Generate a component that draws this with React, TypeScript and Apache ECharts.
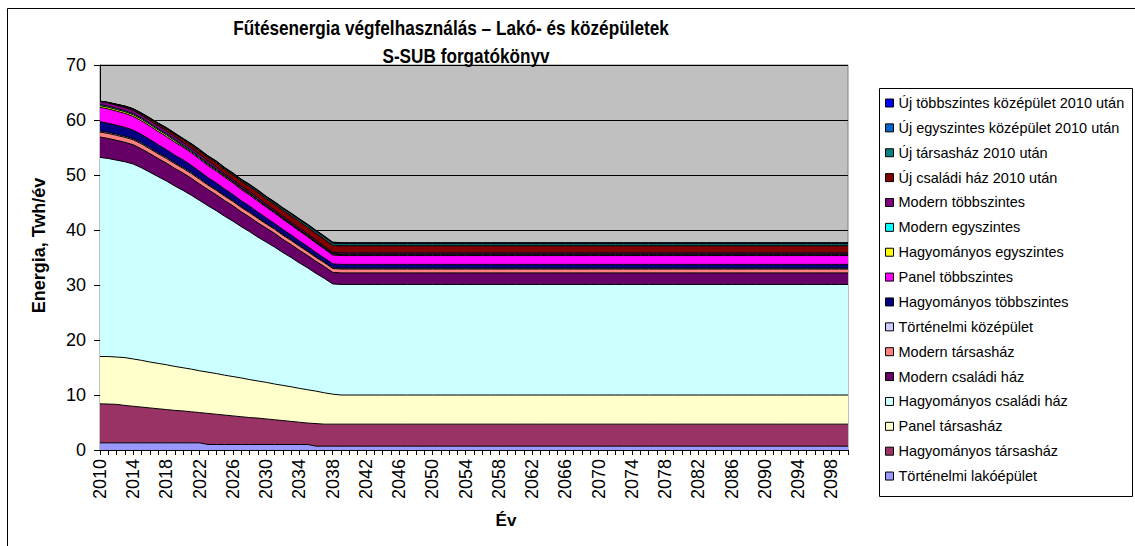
import React, { useEffect, useRef } from "react";
import * as echarts from "echarts";

const FONT = "'Liberation Sans', Arial, Helvetica, sans-serif";

const titleLine1 = "Fűtésenergia végfelhasználás – Lakó- és középületek";
const titleLine2 = "S-SUB forgatókönyv";
const yAxisTitle = "Energia, Twh/év";
const xAxisTitle = "Év";

const years = [
  2010, 2011, 2012, 2013, 2014, 2015, 2016, 2017, 2018, 2019,
  2020, 2021, 2022, 2023, 2024, 2025, 2026, 2027, 2028, 2029,
  2030, 2031, 2032, 2033, 2034, 2035, 2036, 2037, 2038, 2039,
  2040, 2041, 2042, 2043, 2044, 2045, 2046, 2047, 2048, 2049,
  2050, 2051, 2052, 2053, 2054, 2055, 2056, 2057, 2058, 2059,
  2060, 2061, 2062, 2063, 2064, 2065, 2066, 2067, 2068, 2069,
  2070, 2071, 2072, 2073, 2074, 2075, 2076, 2077, 2078, 2079,
  2080, 2081, 2082, 2083, 2084, 2085, 2086, 2087, 2088, 2089,
  2090, 2091, 2092, 2093, 2094, 2095, 2096, 2097, 2098, 2099,
  2100,
];

const yTicks = [0, 10, 20, 30, 40, 50, 60, 70];

// Stack order: bottom -> top
const tortenelmiLako = [
  1.3, 1.3, 1.3, 1.3, 1.3, 1.3, 1.3, 1.3, 1.3, 1.3,
  1.3, 1.3, 1.3, 1.0, 1.0, 1.0, 1.0, 1.0, 1.0, 1.0,
  1.0, 1.0, 1.0, 1.0, 1.0, 1.0, 0.7, 0.7, 0.7, 0.7,
  0.7, 0.7, 0.7, 0.7, 0.7, 0.7, 0.7, 0.7, 0.7, 0.7,
  0.7, 0.7, 0.7, 0.7, 0.7, 0.7, 0.7, 0.7, 0.7, 0.7,
  0.7, 0.7, 0.7, 0.7, 0.7, 0.7, 0.7, 0.7, 0.7, 0.7,
  0.7, 0.7, 0.7, 0.7, 0.7, 0.7, 0.7, 0.7, 0.7, 0.7,
  0.7, 0.7, 0.7, 0.7, 0.7, 0.7, 0.7, 0.7, 0.7, 0.7,
  0.7, 0.7, 0.7, 0.7, 0.7, 0.7, 0.7, 0.7, 0.7, 0.7,
  0.7,
];
const hagyTarsashaz = [
  7.1, 7.05, 7.0, 6.8, 6.65, 6.5, 6.35, 6.2, 6.05, 5.9,
  5.8, 5.65, 5.5, 5.65, 5.5, 5.35, 5.2, 5.05, 4.9, 4.8,
  4.65, 4.5, 4.35, 4.2, 4.05, 3.9, 4.1, 4.0, 4.0, 4.0,
  4.0, 4.0, 4.0, 4.0, 4.0, 4.0, 4.0, 4.0, 4.0, 4.0,
  4.0, 4.0, 4.0, 4.0, 4.0, 4.0, 4.0, 4.0, 4.0, 4.0,
  4.0, 4.0, 4.0, 4.0, 4.0, 4.0, 4.0, 4.0, 4.0, 4.0,
  4.0, 4.0, 4.0, 4.0, 4.0, 4.0, 4.0, 4.0, 4.0, 4.0,
  4.0, 4.0, 4.0, 4.0, 4.0, 4.0, 4.0, 4.0, 4.0, 4.0,
  4.0, 4.0, 4.0, 4.0, 4.0, 4.0, 4.0, 4.0, 4.0, 4.0,
  4.0,
];
const panelTarsashaz = [
  8.6, 8.65, 8.6, 8.7, 8.6, 8.5, 8.35, 8.25, 8.15, 8.0,
  7.85, 7.75, 7.6, 7.5, 7.4, 7.25, 7.15, 7.05, 6.9, 6.75,
  6.65, 6.5, 6.4, 6.3, 6.15, 6.05, 5.9, 5.7, 5.45, 5.3,
  5.3, 5.3, 5.3, 5.3, 5.3, 5.3, 5.3, 5.3, 5.3, 5.3,
  5.3, 5.3, 5.3, 5.3, 5.3, 5.3, 5.3, 5.3, 5.3, 5.3,
  5.3, 5.3, 5.3, 5.3, 5.3, 5.3, 5.3, 5.3, 5.3, 5.3,
  5.3, 5.3, 5.3, 5.3, 5.3, 5.3, 5.3, 5.3, 5.3, 5.3,
  5.3, 5.3, 5.3, 5.3, 5.3, 5.3, 5.3, 5.3, 5.3, 5.3,
  5.3, 5.3, 5.3, 5.3, 5.3, 5.3, 5.3, 5.3, 5.3, 5.3,
  5.3,
];
const hagyCsaladi = [
  36.2, 36.0, 35.8, 35.6, 35.45, 35.0, 34.5, 33.95, 33.4, 32.8,
  32.25, 31.6, 30.95, 30.25, 29.6, 28.9, 28.25, 27.5, 26.9, 26.15,
  25.5, 24.9, 24.15, 23.5, 22.8, 22.15, 21.4, 20.8, 20.05, 20.1,
  20.1, 20.1, 20.1, 20.1, 20.1, 20.1, 20.1, 20.1, 20.1, 20.1,
  20.1, 20.1, 20.1, 20.1, 20.1, 20.1, 20.1, 20.1, 20.1, 20.1,
  20.1, 20.1, 20.1, 20.1, 20.1, 20.1, 20.1, 20.1, 20.1, 20.1,
  20.1, 20.1, 20.1, 20.1, 20.1, 20.1, 20.1, 20.1, 20.1, 20.1,
  20.1, 20.1, 20.1, 20.1, 20.1, 20.1, 20.1, 20.1, 20.1, 20.1,
  20.1, 20.1, 20.1, 20.1, 20.1, 20.1, 20.1, 20.1, 20.1, 20.1,
  20.1,
];
const modernCsaladi = [
  3.7, 3.65, 3.6, 3.55, 3.5, 3.45, 3.4, 3.3, 3.25, 3.2,
  3.15, 3.1, 3.0, 2.95, 2.9, 2.85, 2.8, 2.7, 2.65, 2.6,
  2.55, 2.5, 2.4, 2.35, 2.3, 2.25, 2.2, 2.15, 2.1, 2.1,
  2.1, 2.1, 2.1, 2.1, 2.1, 2.1, 2.1, 2.1, 2.1, 2.1,
  2.1, 2.1, 2.1, 2.1, 2.1, 2.1, 2.1, 2.1, 2.1, 2.1,
  2.1, 2.1, 2.1, 2.1, 2.1, 2.1, 2.1, 2.1, 2.1, 2.1,
  2.1, 2.1, 2.1, 2.1, 2.1, 2.1, 2.1, 2.1, 2.1, 2.1,
  2.1, 2.1, 2.1, 2.1, 2.1, 2.1, 2.1, 2.1, 2.1, 2.1,
  2.1, 2.1, 2.1, 2.1, 2.1, 2.1, 2.1, 2.1, 2.1, 2.1,
  2.1,
];
const modernTarsashaz = [
  0.9, 0.9, 0.9, 0.9, 0.9, 0.9, 0.85, 0.85, 0.85, 0.85,
  0.85, 0.85, 0.85, 0.8, 0.8, 0.8, 0.8, 0.8, 0.8, 0.8,
  0.75, 0.75, 0.75, 0.75, 0.75, 0.7, 0.7, 0.7, 0.7, 0.7,
  0.7, 0.7, 0.7, 0.7, 0.7, 0.7, 0.7, 0.7, 0.7, 0.7,
  0.7, 0.7, 0.7, 0.7, 0.7, 0.7, 0.7, 0.7, 0.7, 0.7,
  0.7, 0.7, 0.7, 0.7, 0.7, 0.7, 0.7, 0.7, 0.7, 0.7,
  0.7, 0.7, 0.7, 0.7, 0.7, 0.7, 0.7, 0.7, 0.7, 0.7,
  0.7, 0.7, 0.7, 0.7, 0.7, 0.7, 0.7, 0.7, 0.7, 0.7,
  0.7, 0.7, 0.7, 0.7, 0.7, 0.7, 0.7, 0.7, 0.7, 0.7,
  0.7,
];
const tortenelmiKoz = [
  0.2, 0.2, 0.2, 0.2, 0.2, 0.2, 0.2, 0.2, 0.2, 0.2,
  0.2, 0.2, 0.2, 0.15, 0.15, 0.15, 0.15, 0.15, 0.15, 0.15,
  0.15, 0.15, 0.15, 0.15, 0.15, 0.15, 0.15, 0.15, 0.15, 0.15,
  0.15, 0.15, 0.15, 0.15, 0.15, 0.15, 0.15, 0.15, 0.15, 0.15,
  0.15, 0.15, 0.15, 0.15, 0.15, 0.15, 0.15, 0.15, 0.15, 0.15,
  0.15, 0.15, 0.15, 0.15, 0.15, 0.15, 0.15, 0.15, 0.15, 0.15,
  0.15, 0.15, 0.15, 0.15, 0.15, 0.15, 0.15, 0.15, 0.15, 0.15,
  0.15, 0.15, 0.15, 0.15, 0.15, 0.15, 0.15, 0.15, 0.15, 0.15,
  0.15, 0.15, 0.15, 0.15, 0.15, 0.15, 0.15, 0.15, 0.15, 0.15,
  0.15,
];
const hagyTobbszintes = [
  1.7, 1.65, 1.65, 1.6, 1.55, 1.5, 1.5, 1.45, 1.4, 1.35,
  1.35, 1.3, 1.25, 1.2, 1.2, 1.15, 1.1, 1.05, 1.05, 1.0,
  0.95, 0.9, 0.9, 0.85, 0.8, 0.8, 0.75, 0.7, 0.7, 0.7,
  0.7, 0.7, 0.7, 0.7, 0.7, 0.7, 0.7, 0.7, 0.7, 0.7,
  0.7, 0.7, 0.7, 0.7, 0.7, 0.7, 0.7, 0.7, 0.7, 0.7,
  0.7, 0.7, 0.7, 0.7, 0.7, 0.7, 0.7, 0.7, 0.7, 0.7,
  0.7, 0.7, 0.7, 0.7, 0.7, 0.7, 0.7, 0.7, 0.7, 0.7,
  0.7, 0.7, 0.7, 0.7, 0.7, 0.7, 0.7, 0.7, 0.7, 0.7,
  0.7, 0.7, 0.7, 0.7, 0.7, 0.7, 0.7, 0.7, 0.7, 0.7,
  0.7,
];
const panelTobbszintes = [
  2.6, 2.6, 2.55, 2.55, 2.5, 2.5, 2.45, 2.4, 2.4, 2.35,
  2.3, 2.3, 2.25, 2.2, 2.15, 2.15, 2.1, 2.05, 2.0, 2.0,
  1.95, 1.9, 1.85, 1.8, 1.8, 1.75, 1.7, 1.65, 1.6, 1.6,
  1.6, 1.6, 1.6, 1.6, 1.6, 1.6, 1.6, 1.6, 1.6, 1.6,
  1.6, 1.6, 1.6, 1.6, 1.6, 1.6, 1.6, 1.6, 1.6, 1.6,
  1.6, 1.6, 1.6, 1.6, 1.6, 1.6, 1.6, 1.6, 1.6, 1.6,
  1.6, 1.6, 1.6, 1.6, 1.6, 1.6, 1.6, 1.6, 1.6, 1.6,
  1.6, 1.6, 1.6, 1.6, 1.6, 1.6, 1.6, 1.6, 1.6, 1.6,
  1.6, 1.6, 1.6, 1.6, 1.6, 1.6, 1.6, 1.6, 1.6, 1.6,
  1.6,
];
const hagyEgyszintes = [
  0.3, 0.3, 0.3, 0.3, 0.3, 0.3, 0.3, 0.3, 0.3, 0.3,
  0.2, 0.2, 0.2, 0.2, 0.2, 0.2, 0.2, 0.2, 0.2, 0.2,
  0.15, 0.15, 0.15, 0.15, 0.15, 0.15, 0.15, 0.15, 0.15, 0.15,
  0.15, 0.15, 0.15, 0.15, 0.15, 0.15, 0.15, 0.15, 0.15, 0.15,
  0.15, 0.15, 0.15, 0.15, 0.15, 0.15, 0.15, 0.15, 0.15, 0.15,
  0.15, 0.15, 0.15, 0.15, 0.15, 0.15, 0.15, 0.15, 0.15, 0.15,
  0.15, 0.15, 0.15, 0.15, 0.15, 0.15, 0.15, 0.15, 0.15, 0.15,
  0.15, 0.15, 0.15, 0.15, 0.15, 0.15, 0.15, 0.15, 0.15, 0.15,
  0.15, 0.15, 0.15, 0.15, 0.15, 0.15, 0.15, 0.15, 0.15, 0.15,
  0.15,
];
const modernEgyszintes = [
  0.2, 0.2, 0.2, 0.2, 0.2, 0.2, 0.2, 0.2, 0.2, 0.2,
  0.2, 0.2, 0.2, 0.2, 0.2, 0.1, 0.1, 0.1, 0.1, 0.1,
  0.1, 0.1, 0.1, 0.1, 0.1, 0.1, 0.1, 0.1, 0.1, 0.1,
  0.1, 0.1, 0.1, 0.1, 0.1, 0.1, 0.1, 0.1, 0.1, 0.1,
  0.1, 0.1, 0.1, 0.1, 0.1, 0.1, 0.1, 0.1, 0.1, 0.1,
  0.1, 0.1, 0.1, 0.1, 0.1, 0.1, 0.1, 0.1, 0.1, 0.1,
  0.1, 0.1, 0.1, 0.1, 0.1, 0.1, 0.1, 0.1, 0.1, 0.1,
  0.1, 0.1, 0.1, 0.1, 0.1, 0.1, 0.1, 0.1, 0.1, 0.1,
  0.1, 0.1, 0.1, 0.1, 0.1, 0.1, 0.1, 0.1, 0.1, 0.1,
  0.1,
];
const modernTobbszintes = [
  0.6, 0.6, 0.6, 0.6, 0.6, 0.5, 0.5, 0.5, 0.5, 0.5,
  0.45, 0.45, 0.45, 0.45, 0.45, 0.35, 0.35, 0.35, 0.35, 0.35,
  0.3, 0.3, 0.3, 0.3, 0.3, 0.25, 0.25, 0.25, 0.25, 0.25,
  0.25, 0.25, 0.25, 0.25, 0.25, 0.25, 0.25, 0.25, 0.25, 0.25,
  0.25, 0.25, 0.25, 0.25, 0.25, 0.25, 0.25, 0.25, 0.25, 0.25,
  0.25, 0.25, 0.25, 0.25, 0.25, 0.25, 0.25, 0.25, 0.25, 0.25,
  0.25, 0.25, 0.25, 0.25, 0.25, 0.25, 0.25, 0.25, 0.25, 0.25,
  0.25, 0.25, 0.25, 0.25, 0.25, 0.25, 0.25, 0.25, 0.25, 0.25,
  0.25, 0.25, 0.25, 0.25, 0.25, 0.25, 0.25, 0.25, 0.25, 0.25,
  0.25,
];
const ujCsaladi = [
  0.0, 0.05, 0.1, 0.15, 0.2, 0.25, 0.3, 0.35, 0.4, 0.45,
  0.5, 0.55, 0.6, 0.65, 0.7, 0.75, 0.8, 0.85, 0.9, 0.95,
  1.0, 1.05, 1.1, 1.15, 1.2, 1.25, 1.3, 1.3, 1.3, 1.3,
  1.3, 1.3, 1.3, 1.3, 1.3, 1.3, 1.3, 1.3, 1.3, 1.3,
  1.3, 1.3, 1.3, 1.3, 1.3, 1.3, 1.3, 1.3, 1.3, 1.3,
  1.3, 1.3, 1.3, 1.3, 1.3, 1.3, 1.3, 1.3, 1.3, 1.3,
  1.3, 1.3, 1.3, 1.3, 1.3, 1.3, 1.3, 1.3, 1.3, 1.3,
  1.3, 1.3, 1.3, 1.3, 1.3, 1.3, 1.3, 1.3, 1.3, 1.3,
  1.3, 1.3, 1.3, 1.3, 1.3, 1.3, 1.3, 1.3, 1.3, 1.3,
  1.3,
];
const ujTarsashaz = [
  0.0, 0.02, 0.03, 0.05, 0.06, 0.08, 0.09, 0.1, 0.12, 0.13,
  0.15, 0.16, 0.17, 0.19, 0.2, 0.21, 0.22, 0.24, 0.25, 0.26,
  0.27, 0.28, 0.3, 0.31, 0.32, 0.33, 0.34, 0.35, 0.35, 0.35,
  0.35, 0.35, 0.35, 0.35, 0.35, 0.35, 0.35, 0.35, 0.35, 0.35,
  0.35, 0.35, 0.35, 0.35, 0.35, 0.35, 0.35, 0.35, 0.35, 0.35,
  0.35, 0.35, 0.35, 0.35, 0.35, 0.35, 0.35, 0.35, 0.35, 0.35,
  0.35, 0.35, 0.35, 0.35, 0.35, 0.35, 0.35, 0.35, 0.35, 0.35,
  0.35, 0.35, 0.35, 0.35, 0.35, 0.35, 0.35, 0.35, 0.35, 0.35,
  0.35, 0.35, 0.35, 0.35, 0.35, 0.35, 0.35, 0.35, 0.35, 0.35,
  0.35,
];
const ujEgyszintesKoz = [
  0.02, 0.02, 0.02, 0.02, 0.02, 0.05, 0.05, 0.05, 0.05, 0.05,
  0.05, 0.05, 0.05, 0.05, 0.05, 0.08, 0.08, 0.08, 0.08, 0.08,
  0.08, 0.08, 0.08, 0.08, 0.08, 0.1, 0.1, 0.1, 0.1, 0.1,
  0.1, 0.1, 0.1, 0.1, 0.1, 0.1, 0.1, 0.1, 0.1, 0.1,
  0.1, 0.1, 0.1, 0.1, 0.1, 0.1, 0.1, 0.1, 0.1, 0.1,
  0.1, 0.1, 0.1, 0.1, 0.1, 0.1, 0.1, 0.1, 0.1, 0.1,
  0.1, 0.1, 0.1, 0.1, 0.1, 0.1, 0.1, 0.1, 0.1, 0.1,
  0.1, 0.1, 0.1, 0.1, 0.1, 0.1, 0.1, 0.1, 0.1, 0.1,
  0.1, 0.1, 0.1, 0.1, 0.1, 0.1, 0.1, 0.1, 0.1, 0.1,
  0.1,
];
const ujTobbszintesKoz = [
  0.02, 0.02, 0.02, 0.02, 0.02, 0.05, 0.05, 0.05, 0.05, 0.05,
  0.05, 0.05, 0.05, 0.05, 0.05, 0.08, 0.08, 0.08, 0.08, 0.08,
  0.08, 0.08, 0.08, 0.08, 0.08, 0.1, 0.1, 0.1, 0.1, 0.1,
  0.1, 0.1, 0.1, 0.1, 0.1, 0.1, 0.1, 0.1, 0.1, 0.1,
  0.1, 0.1, 0.1, 0.1, 0.1, 0.1, 0.1, 0.1, 0.1, 0.1,
  0.1, 0.1, 0.1, 0.1, 0.1, 0.1, 0.1, 0.1, 0.1, 0.1,
  0.1, 0.1, 0.1, 0.1, 0.1, 0.1, 0.1, 0.1, 0.1, 0.1,
  0.1, 0.1, 0.1, 0.1, 0.1, 0.1, 0.1, 0.1, 0.1, 0.1,
  0.1, 0.1, 0.1, 0.1, 0.1, 0.1, 0.1, 0.1, 0.1, 0.1,
  0.1,
];

// bottom -> top
const seriesNames = [
  "Történelmi lakóépület",
  "Hagyományos társasház",
  "Panel társasház",
  "Hagyományos családi ház",
  "Modern családi ház",
  "Modern társasház",
  "Történelmi középület",
  "Hagyományos többszintes",
  "Panel többszintes",
  "Hagyományos egyszintes",
  "Modern egyszintes",
  "Modern többszintes",
  "Új családi ház 2010 után",
  "Új társasház 2010 után",
  "Új egyszintes középület 2010 után",
  "Új többszintes középület 2010 után",
];
const seriesColors = [
  "#9999FF",
  "#993366",
  "#FFFFCC",
  "#CCFFFF",
  "#660066",
  "#FF8080",
  "#CCCCFF",
  "#000080",
  "#FF00FF",
  "#FFFF00",
  "#00FFFF",
  "#800080",
  "#800000",
  "#008080",
  "#0066CC",
  "#0000FF",
];
const seriesValues = [
  tortenelmiLako,
  hagyTarsashaz,
  panelTarsashaz,
  hagyCsaladi,
  modernCsaladi,
  modernTarsashaz,
  tortenelmiKoz,
  hagyTobbszintes,
  panelTobbszintes,
  hagyEgyszintes,
  modernEgyszintes,
  modernTobbszintes,
  ujCsaladi,
  ujTarsashaz,
  ujEgyszintesKoz,
  ujTobbszintesKoz,
];

export default function App() {
  const ref = useRef<HTMLDivElement>(null);

  useEffect(() => {
    document.body.style.margin = "0";
    const el = ref.current;
    if (!el) return;
    const chart = echarts.init(el, null, { renderer: "svg" });

    const series = seriesNames.map((name, i) => ({
      name,
      type: "line",
      stack: "total",
      data: seriesValues[i],
      symbol: "none",
      showSymbol: false,
      smooth: false,
      color: seriesColors[i],
      itemStyle: { color: seriesColors[i] },
      lineStyle: { color: "#000", width: 1 },
      areaStyle: { color: seriesColors[i], opacity: 1 },
      emphasis: { disabled: true },
      z: 2,
    }));

    const legendData = seriesNames
      .map((name, i) => ({ name, itemStyle: { color: seriesColors[i] } }))
      .reverse();

    const option = {
      animation: false,
      backgroundColor: "#FFFFFF",
      textStyle: { fontFamily: FONT, color: "#000" },
      grid: {
        left: 100,
        top: 65,
        width: 748,
        height: 385,
        show: true,
        backgroundColor: "#C0C0C0",
        borderColor: "#808080",
        borderWidth: 1,
      },
      xAxis: {
        type: "category",
        data: years.map(String),
        boundaryGap: false,
        axisLine: { show: true, lineStyle: { color: "#000", width: 1 } },
        axisTick: { show: true, interval: 0, length: 5, lineStyle: { color: "#000" } },
        axisLabel: {
          interval: 3,
          rotate: 90,
          fontSize: 18,
          color: "#000",
          margin: 9,
          fontFamily: FONT,
        },
        splitLine: { show: false },
        name: xAxisTitle,
        nameLocation: "middle",
        nameGap: 62,
        nameTextStyle: {
          fontSize: 17,
          fontWeight: "bold",
          color: "#000",
          fontFamily: FONT,
          padding: [0, 0, 0, 64],
        },
      },
      yAxis: {
        type: "value",
        min: yTicks[0],
        max: yTicks[yTicks.length - 1],
        interval: 10,
        axisLine: { show: true, lineStyle: { color: "#000", width: 1 } },
        axisTick: { show: true, length: 6, lineStyle: { color: "#000" } },
        axisLabel: { fontSize: 18, color: "#000", margin: 14, fontFamily: FONT },
        splitLine: { show: true, lineStyle: { color: "#000", width: 1 } },
        name: yAxisTitle,
        nameLocation: "middle",
        nameGap: 52,
        nameTextStyle: {
          fontSize: 18,
          fontWeight: "bold",
          color: "#000",
          fontFamily: FONT,
          padding: [0, 0, 0, 24],
        },
      },
      legend: {
        orient: "vertical",
        left: 885,
        top: 95,
        padding: 0,
        icon: "rect",
        itemWidth: 8,
        itemHeight: 8,
        itemGap: 8.87,
        selectedMode: false,
        itemStyle: { borderColor: "#000", borderWidth: 1 },
        textStyle: { fontSize: 14.5, color: "#000", lineHeight: 16, fontFamily: FONT },
        data: legendData,
        z: 10,
      },
      graphic: [
        {
          type: "rect",
          silent: true,
          z: 0,
          shape: { x: 7.5, y: 8.5, width: 1200, height: 700 },
          style: { fill: "none", stroke: "#000", lineWidth: 1 },
        },
        {
          type: "rect",
          silent: true,
          z: 1,
          shape: { x: 879.5, y: 88.5, width: 253, height: 408 },
          style: { fill: "#FFFFFF", stroke: "#000", lineWidth: 1 },
        },
        {
          type: "text",
          silent: true,
          z: 5,
          x: 451,
          y: 28,
          scaleX: 0.86,
          style: {
            text: titleLine1,
            fontSize: 20,
            fontWeight: "bold",
            fontFamily: FONT,
            fill: "#000",
            align: "center",
            verticalAlign: "middle",
          },
        },
        {
          type: "text",
          silent: true,
          z: 5,
          x: 466,
          y: 56,
          scaleX: 0.86,
          style: {
            text: titleLine2,
            fontSize: 20,
            fontWeight: "bold",
            fontFamily: FONT,
            fill: "#000",
            align: "center",
            verticalAlign: "middle",
          },
        },
      ],
      series,
    };

    chart.setOption(option as any);
    return () => chart.dispose();
  }, []);

  return (
    <div
      ref={ref}
      style={{ position: "absolute", left: 0, top: 0, width: 1135, height: 546, background: "#fff" }}
    />
  );
}
